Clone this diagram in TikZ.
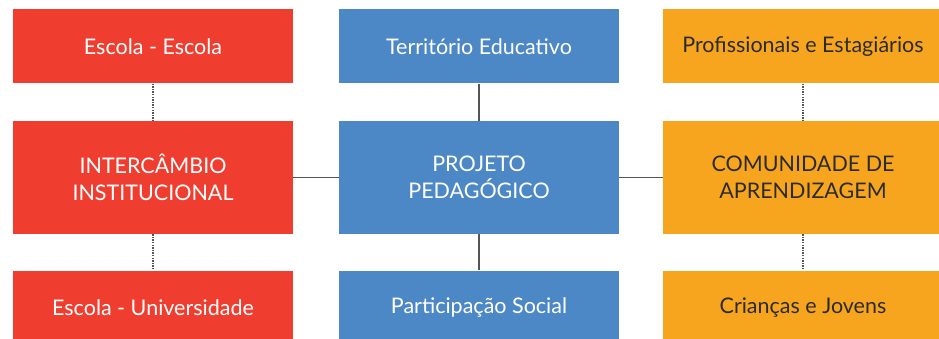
\documentclass[tikz,border=0pt]{standalone}
\usepackage{fontspec}
\setmainfont{Lato}
\usepackage{xcolor}
\definecolor{redbox}{HTML}{EF3E2F}
\definecolor{bluebox}{HTML}{4D88C6}
\definecolor{orangebox}{HTML}{F7A51E}
\definecolor{darktext}{HTML}{2B2B2B}
\definecolor{linkgray}{HTML}{555555}

\begin{document}
\begin{tikzpicture}[x=1pt, y=-1pt,
        box/.style={rectangle, inner sep=0pt, minimum width=280pt, align=center,
            font=\fontsize{21.5}{27.5}\selectfont},
        small/.style={box, minimum height=74pt},
        big/.style={box, minimum height=113pt},
        redcol/.style={fill=redbox, text=white},
        bluecol/.style={fill=bluebox, text=white},
        orangecol/.style={fill=orangebox, text=darktext},
        solidlink/.style={draw=linkgray, line width=1.2pt},
        dotlink/.style={draw=linkgray, line width=1.2pt, dash pattern=on 1.3pt off 1.3pt}
    ]
        \useasboundingbox (0,0) rectangle (939,339);
        \begin{scope}
        \clip (0,0) rectangle (939,339);
        % left column
        \node[small, redcol] (escola) at (153,46.5) {Escola - Escola};
        \node[big, redcol] (intercambio) at (153,177.5) {INTERCÂMBIO\\INSTITUCIONAL};
        \node[small, redcol] (universidade) at (153,307.5) {Escola - Universidade};
        % middle column
        \node[small, bluecol] (territorio) at (479,46.5) {Território Educativo};
        \node[big, bluecol] (projeto) at (479,177.5) {PROJETO\\PEDAGÓGICO};
        \node[small, bluecol] (participacao) at (479,307.5) {Participação Social};
        % right column
        \node[small, orangecol] (profissionais) at (803,46.5) {Profissionais e Estagiários};
        \node[big, orangecol] (comunidade) at (803,177.5) {COMUNIDADE DE\\APRENDIZAGEM};
        \node[small, orangecol] (criancas) at (803,307.5) {Crianças e Jovens};
        \end{scope}
        % links
        \draw[solidlink] (intercambio) -- (projeto);
        \draw[solidlink] (projeto) -- (comunidade);
        \draw[solidlink] (territorio) -- (projeto);
        \draw[solidlink] (projeto) -- (participacao);
        \draw[dotlink] (escola) -- (intercambio);
        \draw[dotlink] (intercambio) -- (universidade);
        \draw[dotlink] (profissionais) -- (comunidade);
        \draw[dotlink] (comunidade) -- (criancas);
    \end{tikzpicture}
\end{document}
